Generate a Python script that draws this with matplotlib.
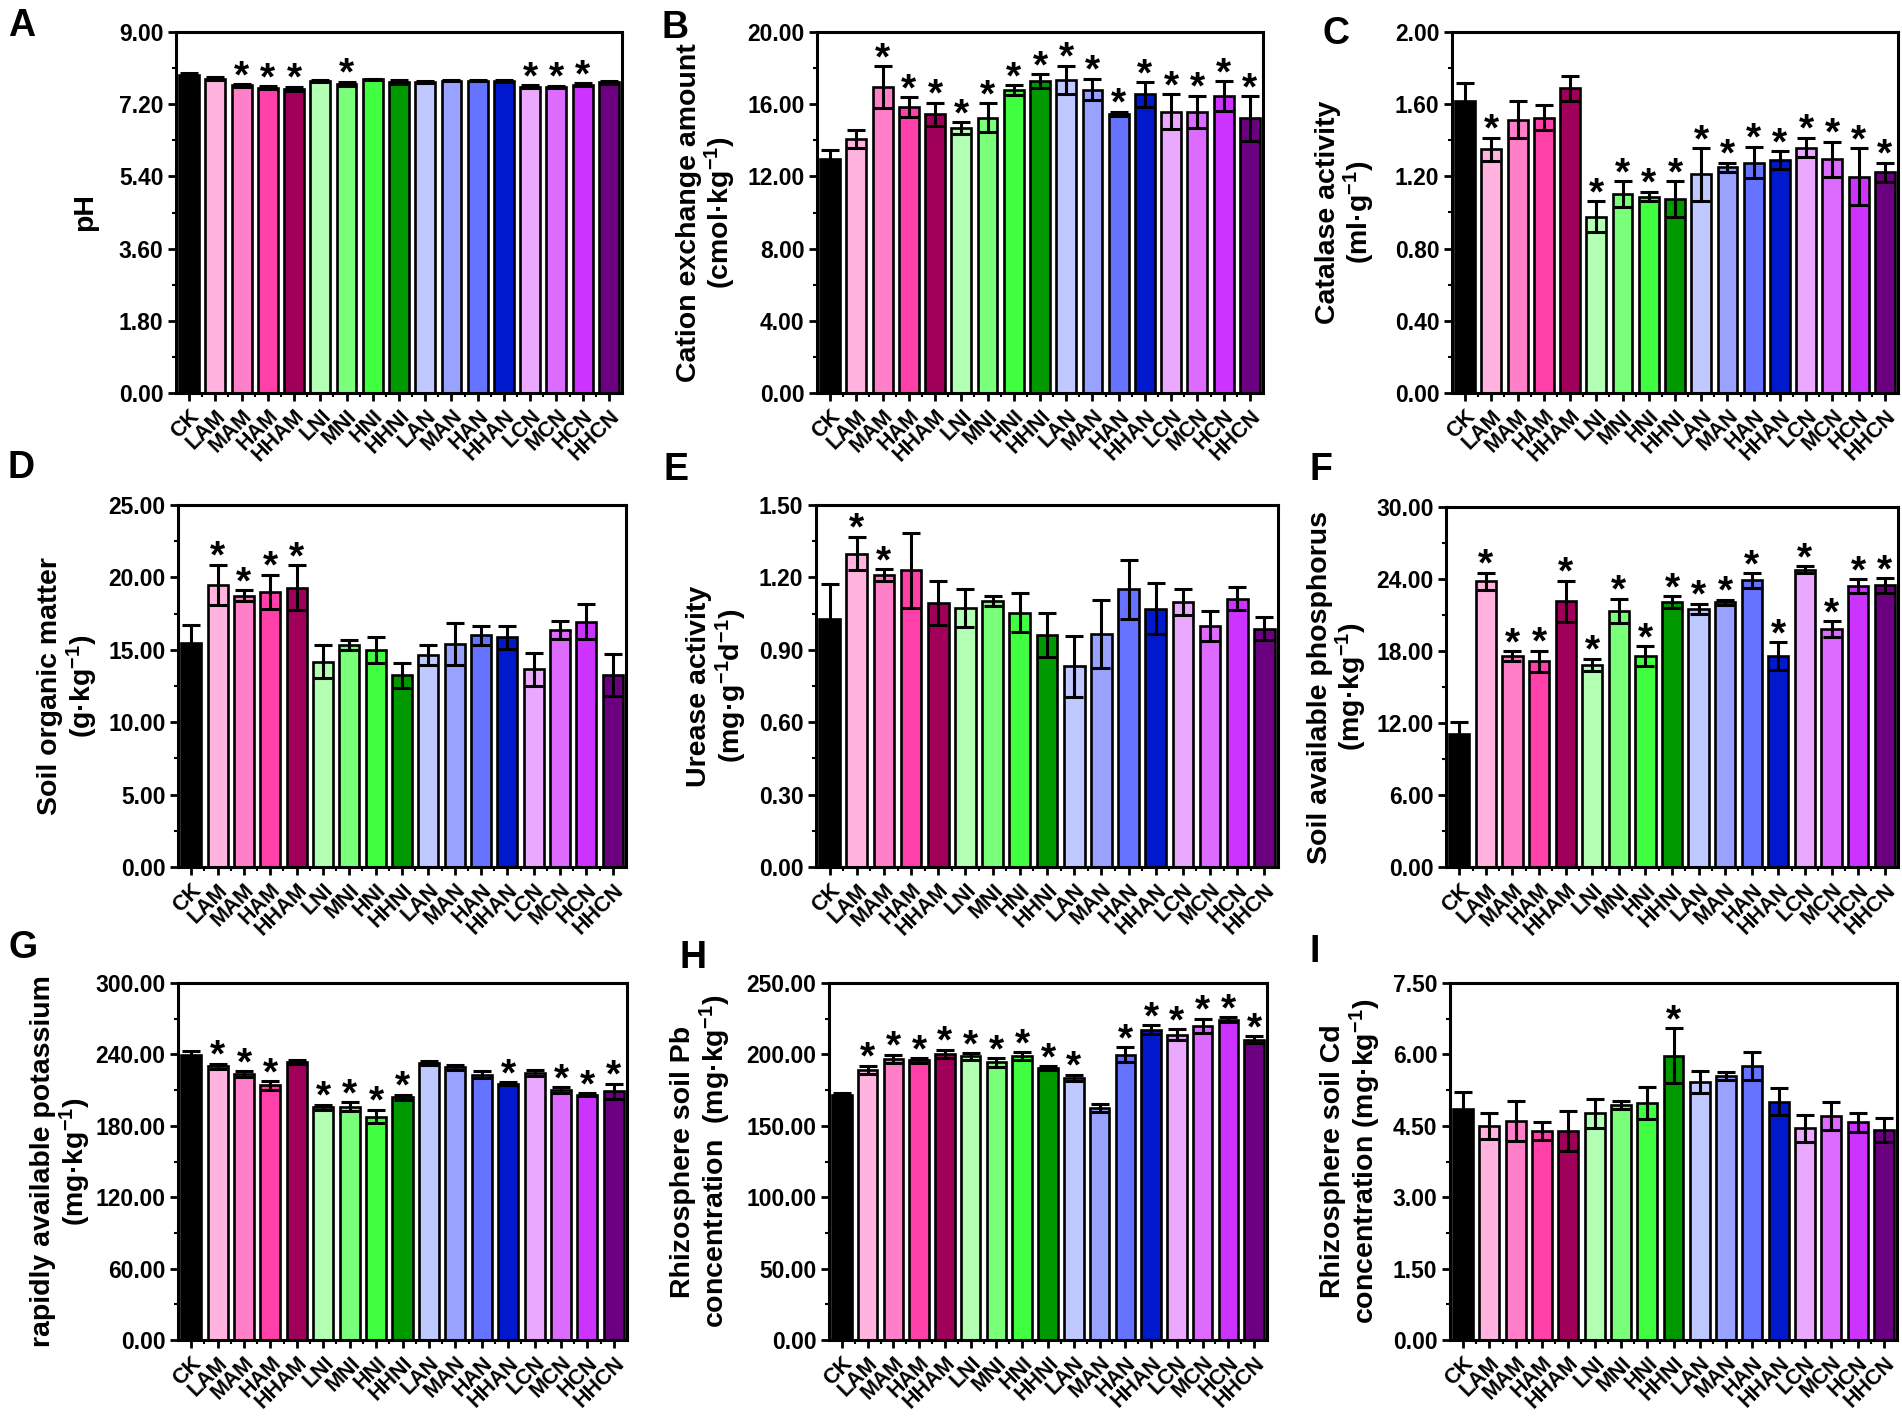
import matplotlib
matplotlib.use("Agg")
import matplotlib.pyplot as plt
import numpy as np
from matplotlib.ticker import MultipleLocator, FormatStrFormatter

plt.rcParams['font.family'] = ['Liberation Sans', 'DejaVu Sans']
plt.rcParams['font.weight'] = 'bold'
plt.rcParams['axes.labelweight'] = 'bold'
plt.rcParams['mathtext.default'] = 'regular'

# treatment groups and bar colours
groups = ['CK', 'LAM', 'MAM', 'HAM', 'HHAM', 'LNI', 'MNI', 'HNI', 'HHNI',
          'LAN', 'MAN', 'HAN', 'HHAN', 'LCN', 'MCN', 'HCN', 'HHCN']
colors = ['#000000', '#FFB3DE', '#FF7FC8', '#FF40A8', '#A0005A',
          '#B3FFB3', '#7AFF7A', '#40FF40', '#009900',
          '#BFC8FF', '#99A3FF', '#6673FF', '#0019CC',
          '#EBA8FF', '#DD6BFF', '#CC33FF', '#6B0080']

# A  pH
ph = [7.94, 7.84, 7.67, 7.61, 7.58, 7.78, 7.71, 7.82, 7.75, 7.75, 7.79, 7.79, 7.78, 7.64, 7.63, 7.69, 7.75]
ph_err = [0.03, 0.04, 0.03, 0.04, 0.06, 0.03, 0.05, 0.02, 0.05, 0.03, 0.02, 0.02, 0.02, 0.03, 0.03, 0.04, 0.04]
ph_sig = [0, 0, 1, 1, 1, 0, 1, 0, 0, 0, 0, 0, 0, 1, 1, 1, 0]

# B  cation exchange amount
cec = [12.94, 14.08, 16.96, 15.85, 15.43, 14.69, 15.24, 16.77, 17.27, 17.36, 16.81, 15.45, 16.55, 15.58, 15.58, 16.46, 15.21]
cec_err = [0.5, 0.5, 1.15, 0.55, 0.65, 0.33, 0.8, 0.28, 0.4, 0.78, 0.6, 0.13, 0.68, 0.97, 0.9, 0.83, 1.25]
cec_sig = [0, 0, 1, 1, 1, 1, 1, 1, 1, 1, 1, 1, 1, 1, 1, 1, 1]

# C  catalase activity
cat = [1.62, 1.35, 1.515, 1.526, 1.687, 0.977, 1.102, 1.088, 1.075, 1.211, 1.25, 1.277, 1.29, 1.36, 1.294, 1.198, 1.224]
cat_err = [0.10, 0.065, 0.10, 0.07, 0.07, 0.087, 0.07, 0.027, 0.10, 0.147, 0.026, 0.087, 0.05, 0.055, 0.098, 0.157, 0.053]
cat_sig = [0, 1, 0, 0, 0, 1, 1, 1, 1, 1, 1, 1, 1, 1, 1, 1, 1]

# D  soil organic matter
som = [15.5, 19.47, 18.73, 18.99, 19.29, 14.17, 15.32, 14.98, 13.25, 14.63, 15.37, 16.01, 15.85, 13.64, 16.36, 16.94, 13.25]
som_err = [1.2, 1.4, 0.39, 1.2, 1.57, 1.15, 0.35, 0.92, 0.87, 0.69, 1.45, 0.65, 0.81, 1.15, 0.64, 1.19, 1.45]
som_sig = [0, 1, 1, 1, 1, 0, 0, 0, 0, 0, 0, 0, 0, 0, 0, 0, 0]

# E  urease activity
ure = [1.029, 1.299, 1.209, 1.23, 1.094, 1.073, 1.101, 1.054, 0.963, 0.831, 0.964, 1.151, 1.071, 1.098, 0.999, 1.112, 0.988]
ure_err = [0.143, 0.069, 0.024, 0.155, 0.09, 0.08, 0.02, 0.082, 0.091, 0.125, 0.141, 0.123, 0.104, 0.055, 0.061, 0.049, 0.048]
ure_sig = [0, 1, 1, 0, 0, 0, 0, 0, 0, 0, 0, 0, 0, 0, 0, 0, 0]

# F  soil available phosphorus
phos = [11.06, 23.82, 17.55, 17.13, 22.14, 16.85, 21.36, 17.55, 22.06, 21.5, 22.06, 23.9, 17.55, 24.79, 19.83, 23.4, 23.46]
phos_err = [1.06, 0.7, 0.42, 0.89, 1.73, 0.5, 1.0, 0.84, 0.5, 0.45, 0.22, 0.61, 1.17, 0.28, 0.64, 0.56, 0.61]
phos_sig = [0, 1, 1, 1, 1, 1, 1, 1, 1, 1, 1, 1, 1, 1, 1, 1, 1]

# G  rapidly available potassium
pot = [239.1, 229.9, 223.4, 213.9, 233.3, 195.4, 196.2, 187.8, 204.1, 232.7, 229.0, 222.9, 215.3, 224.3, 209.7, 206.1, 208.9]
pot_err = [4.0, 2.2, 2.3, 3.4, 1.7, 2.2, 3.4, 5.6, 2.0, 2.0, 1.7, 2.8, 1.4, 2.2, 2.5, 1.4, 6.4]
pot_sig = [0, 1, 1, 1, 0, 1, 1, 1, 1, 0, 0, 0, 1, 0, 1, 1, 1]

# H  rhizosphere soil Pb
pb = [171.7, 189.3, 196.7, 195.8, 200.2, 198.6, 194.4, 198.6, 190.2, 183.4, 162.4, 199.8, 217.3, 213.8, 220.1, 224.3, 210.3]
pb_err = [1.6, 2.8, 3.0, 1.6, 3.0, 2.3, 3.0, 2.8, 1.4, 2.3, 3.0, 5.4, 3.0, 4.0, 4.9, 1.6, 2.3]
pb_sig = [0, 1, 1, 1, 1, 1, 1, 1, 1, 1, 0, 1, 1, 1, 1, 1, 1]

# I  rhizosphere soil Cd
cd = [4.85, 4.5, 4.6, 4.39, 4.39, 4.76, 4.94, 4.98, 5.97, 5.42, 5.54, 5.76, 5.01, 4.45, 4.71, 4.57, 4.41]
cd_err = [0.35, 0.27, 0.42, 0.19, 0.42, 0.3, 0.08, 0.34, 0.58, 0.23, 0.08, 0.29, 0.28, 0.28, 0.29, 0.2, 0.25]
cd_sig = [0, 0, 0, 0, 0, 0, 0, 0, 1, 0, 0, 0, 0, 0, 0, 0, 0]

W, H = 1902, 1418
fig = plt.figure(figsize=(W / 100, H / 100), dpi=100)


def make_axes(left, top, right, bottom):
    # pixel box -> figure fraction
    return fig.add_axes([left / W, 1 - bottom / H, (right - left) / W, (bottom - top) / H])


def bar_panel(ax, vals, errs, sig, ymax, ylabel, label_x):
    x = np.arange(len(groups))
    ax.bar(x, vals, width=0.76, color=colors, edgecolor='black', linewidth=1.9, zorder=2)
    ax.errorbar(x, vals, yerr=errs, fmt='none', ecolor='black', elinewidth=2.2,
                capsize=6.5, capthick=2.2, zorder=3)
    for i in range(len(groups)):
        if sig[i]:
            ax.annotate('*', (x[i], vals[i] + errs[i]), xytext=(0, -8),
                        textcoords='offset points', ha='center', va='bottom',
                        fontsize=28, fontweight='bold')
    ax.set_xlim(-0.5, 16.5)
    ax.set_ylim(0, ymax)
    ax.yaxis.set_major_locator(MultipleLocator(ymax / 5))
    ax.yaxis.set_minor_locator(MultipleLocator(ymax / 10))
    ax.yaxis.set_major_formatter(FormatStrFormatter('%.2f'))
    ax.set_xticks(x)
    ax.set_xticks(x[:-1] + 0.5, minor=True)
    ax.set_xticklabels(groups, rotation=45, ha='right', rotation_mode='anchor', fontsize=15.5)
    ax.tick_params(axis='y', labelsize=16.5, pad=3)
    ax.tick_params(which='major', direction='out', length=6, width=2)
    ax.tick_params(which='minor', direction='out', length=3, width=1.5)
    ax.tick_params(axis='x', which='major', pad=3)
    for s in ax.spines.values():
        s.set_linewidth(2.2)
    ax.set_ylabel(ylabel, fontsize=20.5, linespacing=1.05)
    ax.yaxis.set_label_coords(label_x, 0.5)


axA = make_axes(176, 32, 622, 393)
bar_panel(axA, ph, ph_err, ph_sig, 9.0, 'pH', -0.175)

axB = make_axes(817, 32, 1263, 393)
bar_panel(axB, cec, cec_err, cec_sig, 20.0,
          'Cation exchange amount\n(cmol·kg$^{-1}$)', -0.177)

axC = make_axes(1452, 32, 1898, 393)
bar_panel(axC, cat, cat_err, cat_sig, 2.0,
          'Catalase activity\n(ml·g$^{-1}$)', -0.168)

axD = make_axes(178, 505, 626, 867)
bar_panel(axD, som, som_err, som_sig, 25.0,
          'Soil organic matter\n(g·kg$^{-1}$)', -0.175)

axE = make_axes(816, 505, 1278, 867)
bar_panel(axE, ure, ure_err, ure_sig, 1.5,
          'Urease activity\n(mg·g$^{-1}$d$^{-1}$)', -0.146)

axF = make_axes(1446, 507, 1898, 867)
bar_panel(axF, phos, phos_err, phos_sig, 30.0,
          'Soil available phosphorus\n(mg·kg$^{-1}$)', -0.17)

axG = make_axes(178, 983, 627, 1340)
bar_panel(axG, pot, pot_err, pot_sig, 300.0,
          'rapidly available potassium\n(mg·kg$^{-1}$)', -0.19)

axH = make_axes(829, 983, 1267, 1340)
bar_panel(axH, pb, pb_err, pb_sig, 250.0,
          'Rhizosphere soil Pb\nconcentration  (mg·kg$^{-1}$)', -0.22)

axI = make_axes(1450, 983, 1897, 1340)
bar_panel(axI, cd, cd_err, cd_sig, 7.5,
          'Rhizosphere soil Cd\nconcentration (mg·kg$^{-1}$)', -0.15)

# panel letters
letters = [('A', 8, 8), ('B', 662, 10), ('C', 1322, 16),
           ('D', 8, 450), ('E', 664, 452), ('F', 1310, 452),
           ('G', 8, 930), ('H', 680, 940), ('I', 1310, 934)]
for t, px, py in letters:
    fig.text(px / W, 1 - py / H, t, fontsize=27, fontweight='bold', ha='left', va='top')

fig.savefig('out.png', dpi=100)
